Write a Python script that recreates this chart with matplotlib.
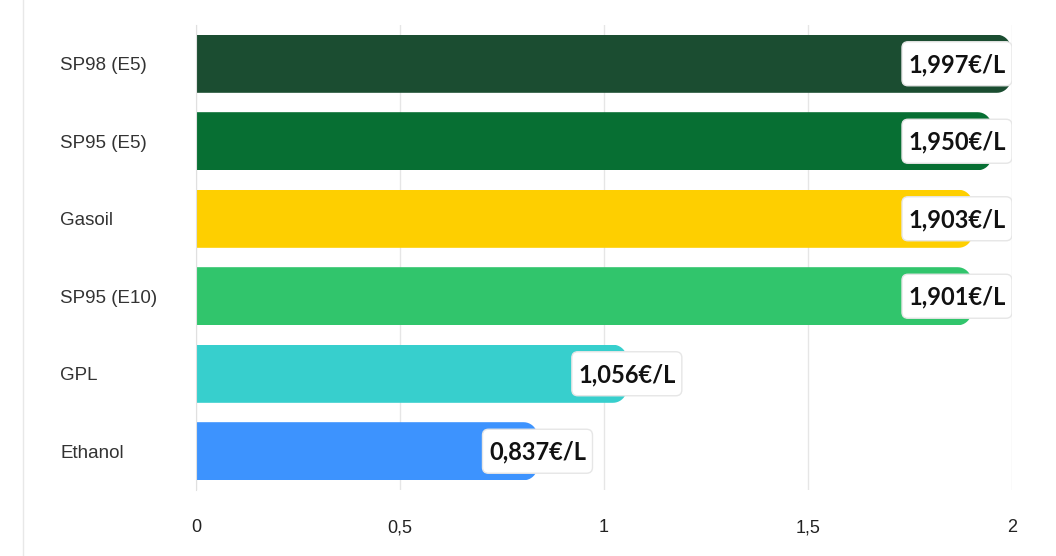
import numpy as np
import matplotlib.pyplot as plt
from matplotlib.patches import FancyBboxPatch, PathPatch
from matplotlib.path import Path

categories = ['SP98 (E5)', 'SP95 (E5)', 'Gasoil', 'SP95 (E10)', 'GPL', 'Ethanol']
prices = [1.997, 1.950, 1.903, 1.901, 1.056, 0.837]
price_labels = ['1,997€/L', '1,950€/L', '1,903€/L', '1,901€/L', '1,056€/L', '0,837€/L']
colors = ['#1b4d31', '#076f33', '#fecf00', '#31c56c', '#37cfcd', '#3d93fe']
xticks = [0, 0.5, 1, 1.5, 2]
xtick_labels = ['0', '0,5', '1', '1,5', '2']

W, H = 1056, 556
fig = plt.figure(figsize=(W / 100, H / 100), dpi=100)
fig.patch.set_facecolor('white')
ax = fig.add_axes([196 / W, 1 - 490 / H, (1012 - 196) / W, (490 - 25) / H])

# thin border line on the left of the card
fig.add_artist(plt.Line2D([23 / W, 23 / W], [0, 1], color='#e8e8e8', lw=1))

ax.set_xlim(0, 2)
ax.set_ylim(5.5, -0.5)

px_x = (1012 - 196) / 2.0      # pixels per x unit
px_y = (490 - 25) / 6.0        # pixels per y unit
bh = 0.75
rx = 14 / px_x
ry = 14 / px_y


def rounded_end(x1, yc, h):
    # left side square, right side with rounded corners (elliptic in data units)
    y0, y1 = yc - h / 2, yc + h / 2
    t1 = np.linspace(np.pi / 2, 0, 12)
    t2 = np.linspace(0, -np.pi / 2, 12)
    pts = [(0, y0)]
    pts += [(x1 - rx + rx * np.cos(t), y0 + ry - ry * np.sin(t)) for t in t1]
    pts += [(x1 - rx + rx * np.cos(t), y1 - ry - ry * np.sin(t)) for t in t2]
    pts += [(0, y1), (0, y0)]
    return Path(pts, closed=True)


y = list(range(len(categories)))
bars = ax.barh(y, prices, height=bh, color=colors, zorder=2)
for i, (b, p) in enumerate(zip(bars, prices)):
    clip = PathPatch(rounded_end(p, i, bh), transform=ax.transData)
    b.set_clip_path(clip)

# value labels in white rounded boxes, clamped to the right edge
box_w = 110 / px_x
box_h = 44 / px_y
for i, (p, lab) in enumerate(zip(prices, price_labels)):
    xc = min(p, 2 - box_w / 2)
    box = FancyBboxPatch((xc - box_w / 2, i - box_h / 2), box_w, box_h,
                         boxstyle=f"round,pad=0,rounding_size={6 / px_x}",
                         mutation_aspect=px_x / px_y,
                         fc='white', ec='#e6e6e6', lw=1, zorder=3)
    ax.add_patch(box)
    ax.text(xc, i + 0.01, lab, ha='center', va='center', fontsize=17,
            fontweight='bold', family='Lato', color='#111111', zorder=4)

ax.set_xticks(xticks)
ax.set_xticklabels(xtick_labels, fontsize=13, color='#222222', family='Liberation Sans')
ax.set_yticks(y)
ax.set_yticklabels(categories, fontsize=13.5, color='#333333', family='Liberation Sans')
for t in ax.get_yticklabels():
    t.set_horizontalalignment('left')
ax.tick_params(axis='y', length=0, pad=(196 - 60) * 0.72)
ax.tick_params(axis='x', length=0, pad=21)

ax.grid(axis='x', color='#e6e6e6', lw=1, zorder=0)
for s in ['top', 'right', 'bottom']:
    ax.spines[s].set_visible(False)
ax.spines['left'].set_color('#e0e0e0')
ax.spines['left'].set_zorder(3)

plt.savefig('out.png', dpi=100)
